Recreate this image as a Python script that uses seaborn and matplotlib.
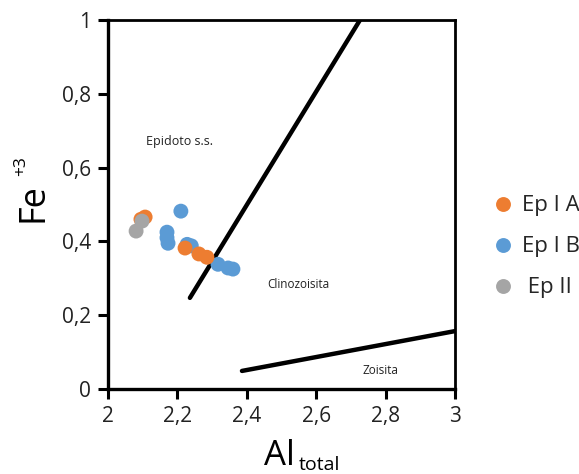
import matplotlib
matplotlib.use("Agg")
import matplotlib.pyplot as plt
import seaborn as sns
import pandas as pd

# Data
epIA_x = [2.095, 2.107, 2.222, 2.262, 2.285]
epIA_y = [0.460, 0.466, 0.382, 0.366, 0.357]
epIB_x = [2.210, 2.170, 2.170, 2.173, 2.228, 2.240, 2.317, 2.346, 2.360]
epIB_y = [0.482, 0.425, 0.410, 0.395, 0.392, 0.388, 0.338, 0.328, 0.325]
epII_x = [2.081, 2.098]
epII_y = [0.428, 0.455]
groups = ["Ep I A", "Ep I B", "Ep II"]
colors = ["#ED7D31", "#5B9BD5", "#A5A5A5"]

# boundary lines
line1_x = [2.236, 2.726]
line1_y = [0.247, 1.0]
line2_x = [2.386, 3.0]
line2_y = [0.049, 0.157]

xticks = [2, 2.2, 2.4, 2.6, 2.8, 3]
xticklabels = ["2", "2,2", "2,4", "2,6", "2,8", "3"]
yticks = [0, 0.2, 0.4, 0.6, 0.8, 1]
yticklabels = ["0", "0,2", "0,4", "0,6", "0,8", "1"]

sns.set_style("white")
plt.rcParams['font.family'] = ['Open Sans', 'DejaVu Sans']

# draw order: blue, orange, gray
df = pd.concat([
    pd.DataFrame({"x": epIB_x, "y": epIB_y, "g": groups[1]}),
    pd.DataFrame({"x": epIA_x, "y": epIA_y, "g": groups[0]}),
    pd.DataFrame({"x": epII_x, "y": epII_y, "g": groups[2]}),
], ignore_index=True)

fig = plt.figure(figsize=(5.79, 4.74), dpi=100)
ax = fig.add_axes([0.1865, 0.1793, 0.786 - 0.1865, 0.9578 - 0.1793])

sns.lineplot(x=line1_x, y=line1_y, ax=ax, color="black", lw=3.2, zorder=3)
sns.lineplot(x=line2_x, y=line2_y, ax=ax, color="black", lw=3.2, zorder=3)

sns.scatterplot(data=df, x="x", y="y", hue="g", hue_order=groups,
                palette=dict(zip(groups, colors)), s=115, linewidth=0,
                ax=ax, zorder=4, legend=True)

ax.set_xlim(2, 3)
ax.set_ylim(0, 1)
ax.set_xticks(xticks)
ax.set_xticklabels(xticklabels)
ax.set_yticks(yticks)
ax.set_yticklabels(yticklabels)
ax.tick_params(axis="both", direction="out", length=7, width=2.2,
               labelsize=15, colors="black", labelcolor="#222222", pad=5,
               bottom=True, left=True)
for side in ["left", "bottom"]:
    ax.spines[side].set_linewidth(2.4)
for side in ["top", "right"]:
    ax.spines[side].set_linewidth(2.0)
for sp in ax.spines.values():
    sp.set_color("black")
    sp.set_visible(True)

ax.set_xlabel("")
ax.set_ylabel("")

# region labels
ax.text(2.207, 0.672, "Epidoto s.s.", fontsize=9, ha="center", va="center", color="#222222")
ax.text(2.548, 0.282, "Clinozoisita", fontsize=8.5, ha="center", va="center", color="#222222")
ax.text(2.784, 0.049, "Zoisita", fontsize=8.5, ha="center", va="center", color="#222222")

# axis titles
fig.text(295 / 579, 1 - 465 / 474, "Al", fontsize=25, ha="right", va="baseline", color="black")
fig.text(299 / 579, 1 - 470 / 474, "total", fontsize=14, ha="left", va="baseline", color="black")
fig.text(52 / 579, 1 - 203 / 474, "Fe", fontsize=26, rotation=90, ha="right", va="center", color="black")
fig.text(21 / 579, 1 - 166 / 474, "+3", fontsize=12.5, rotation=90, ha="center", va="center", color="black")

# legend
h, l = ax.get_legend_handles_labels()
leg = ax.legend(h, ["Ep I A", "Ep I B", " Ep II"], loc="center left",
                bbox_to_anchor=(1.105, 0.385), frameon=False, fontsize=16,
                handlelength=1.0, handletextpad=0.35, labelspacing=0.9,
                markerscale=1.0, borderaxespad=0, borderpad=0)

fig.savefig("out.png", dpi=100)
